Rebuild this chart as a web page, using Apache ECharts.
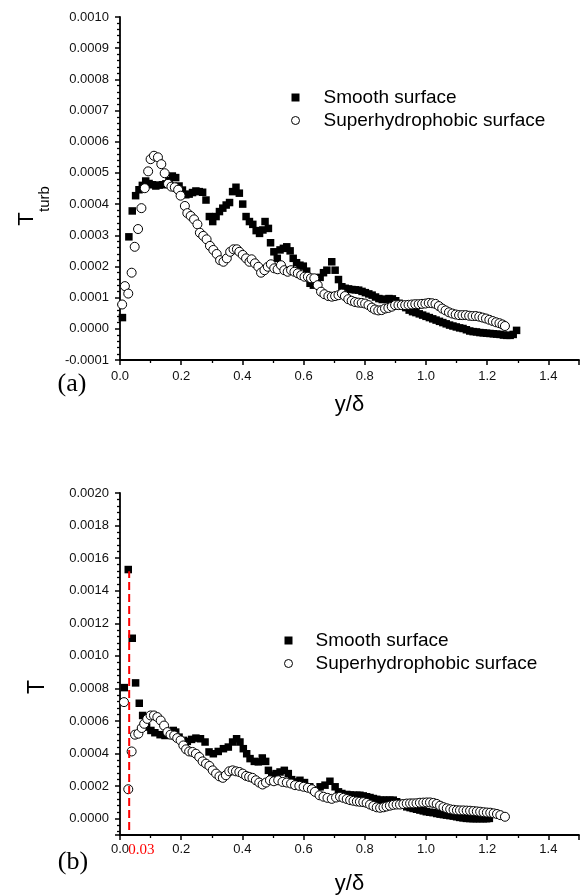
<!DOCTYPE html>
<html>
<head>
<meta charset="utf-8">
<script src="https://cdn.jsdelivr.net/npm/echarts@6/dist/echarts.min.js"></script>
<style>
  html, body { margin: 0; padding: 0; background: #fff; }
  #main { width: 581px; height: 896px; }
</style>
</head>
<body>
<div id="main"></div>
<script>
// values of T are read in units of 1e-4
var SCALE = 1e-4;

var xTicks = [0, 0.2, 0.4, 0.6, 0.8, 1.0, 1.2, 1.4];
var legendNames = ['Smooth surface', 'Superhydrophobic surface'];

// (a) smooth surface
var smoothAX = [0.008,0.029,0.040,0.051,0.062,0.073,0.084,0.095,0.106,0.117,0.128,0.139,0.150,0.160,0.171,0.182,0.193,0.204,0.215,0.226,
  0.237,0.248,0.259,0.270,0.281,0.292,0.303,0.314,0.325,0.336,0.347,0.358,0.368,0.379,0.390,0.401,0.412,0.423,0.434,0.445,
  0.456,0.467,0.474,0.485,0.492,0.503,0.514,0.523,0.534,0.545,0.556,0.566,0.577,0.588,0.599,0.610,0.621,0.632,0.643,0.654,
  0.665,0.676,0.692,0.703,0.714,0.725,0.736,0.747,0.758,0.769,0.780,0.791,0.802,0.813,0.824,0.835,0.846,0.857,0.868,0.879,
  0.890,0.901,0.912,0.923,0.934,0.945,0.956,0.967,0.978,0.989,1.000,1.011,1.022,1.033,1.044,1.055,1.066,1.077,1.088,1.099,
  1.110,1.121,1.132,1.143,1.154,1.165,1.176,1.187,1.198,1.209,1.220,1.231,1.242,1.253,1.264,1.275,1.285,1.296];
var smoothAY = [0.36,2.95,3.78,4.27,4.46,4.60,4.74,4.66,4.62,4.58,4.61,4.62,4.65,4.75,4.90,4.85,4.58,4.45,4.30,4.32,
  4.37,4.42,4.40,4.38,4.13,3.60,3.44,3.60,3.76,3.87,3.97,4.05,4.40,4.54,4.35,4.00,3.60,3.44,3.35,3.15,
  3.06,3.17,3.44,3.22,2.76,2.47,2.26,2.53,2.58,2.63,2.50,2.26,2.12,2.04,2.01,1.85,1.46,1.40,1.50,1.65,
  1.80,1.88,2.15,1.88,1.58,1.35,1.30,1.28,1.26,1.25,1.24,1.20,1.16,1.12,1.08,1.02,0.97,0.94,0.95,0.97,
  0.96,0.90,0.82,0.75,0.68,0.60,0.55,0.52,0.48,0.44,0.40,0.36,0.32,0.28,0.24,0.20,0.16,0.12,0.09,0.06,
  0.03,0.01,-0.03,-0.07,-0.09,-0.10,-0.12,-0.13,-0.14,-0.15,-0.16,-0.17,-0.18,-0.20,-0.21,-0.21,-0.18,-0.05];

// (a) superhydrophobic surface
var superAX = [0.007,0.016,0.027,0.038,0.048,0.059,0.070,0.081,0.092,0.100,0.111,0.124,0.135,0.146,0.157,0.168,0.179,0.190,0.198,0.212,
  0.220,0.231,0.242,0.253,0.261,0.272,0.283,0.294,0.305,0.316,0.327,0.338,0.349,0.360,0.371,0.382,0.390,0.401,0.412,0.423,
  0.430,0.441,0.452,0.461,0.472,0.483,0.493,0.504,0.515,0.526,0.537,0.548,0.559,0.570,0.581,0.592,0.603,0.614,0.624,0.635,
  0.646,0.657,0.668,0.681,0.692,0.703,0.714,0.725,0.735,0.746,0.757,0.768,0.779,0.790,0.801,0.812,0.823,0.833,0.844,0.855,
  0.866,0.877,0.888,0.899,0.910,0.921,0.932,0.943,0.954,0.965,0.976,0.987,0.998,1.009,1.020,1.031,1.042,1.053,1.064,1.075,
  1.086,1.097,1.108,1.119,1.130,1.141,1.152,1.163,1.174,1.185,1.196,1.207,1.218,1.229,1.240,1.250,1.258];
var superAY = [0.78,1.37,1.13,1.80,2.63,3.20,3.87,4.51,5.05,5.44,5.55,5.50,5.28,4.99,4.65,4.56,4.54,4.46,4.27,3.94,
  3.71,3.62,3.51,3.35,3.08,2.98,2.87,2.66,2.53,2.40,2.20,2.15,2.26,2.47,2.55,2.55,2.47,2.37,2.26,2.15,
  2.23,2.10,1.99,1.80,1.88,1.99,2.07,1.94,1.91,2.04,1.88,1.83,1.88,1.83,1.78,1.72,1.67,1.67,1.62,1.62,
  1.40,1.19,1.11,1.05,1.03,1.05,1.08,1.13,1.05,0.95,0.90,0.86,0.84,0.83,0.81,0.76,0.68,0.62,0.59,0.60,
  0.65,0.67,0.71,0.76,0.76,0.76,0.76,0.77,0.78,0.79,0.79,0.80,0.81,0.83,0.82,0.80,0.73,0.65,0.59,0.53,
  0.49,0.46,0.44,0.44,0.44,0.42,0.41,0.41,0.39,0.36,0.33,0.29,0.25,0.21,0.18,0.14,0.09];

// (b) smooth surface
var smoothBX = [0.014,0.027,0.040,0.051,0.063,0.074,0.087,0.101,0.114,0.131,0.147,0.163,0.174,0.182,0.193,0.207,0.220,0.234,0.248,0.263,
  0.278,0.291,0.305,0.321,0.338,0.354,0.368,0.381,0.392,0.403,0.414,0.425,0.439,0.452,0.465,0.476,0.485,0.496,0.510,0.523,
  0.537,0.550,0.561,0.575,0.588,0.603,0.620,0.637,0.654,0.670,0.686,0.703,0.714,0.725,0.741,0.752,0.763,0.774,0.784,0.795,
  0.806,0.817,0.828,0.839,0.850,0.861,0.871,0.882,0.893,0.904,0.915,0.926,0.937,0.948,0.958,0.969,0.980,0.991,1.001,1.012,
  1.023,1.035,1.046,1.057,1.067,1.078,1.089,1.100,1.110,1.121,1.132,1.143,1.154,1.165,1.176,1.187,1.198,1.207];
var smoothBY = [8.05,15.3,11.08,8.34,7.09,6.34,5.63,5.42,5.28,5.16,5.11,5.28,5.42,5.32,5.01,4.81,4.75,4.87,4.95,4.91,
  4.71,4.10,3.99,4.13,4.30,4.40,4.71,4.91,4.71,4.30,3.99,3.69,3.52,3.49,3.73,3.52,2.97,2.67,2.77,2.87,
  2.97,2.77,2.40,2.26,2.36,2.22,1.96,1.75,1.96,2.06,2.30,1.96,1.65,1.55,1.49,1.46,1.44,1.44,1.44,1.40,
  1.35,1.30,1.24,1.19,1.14,1.14,1.14,1.14,1.14,1.04,0.94,0.84,0.73,0.68,0.63,0.58,0.53,0.48,0.43,0.40,
  0.37,0.32,0.28,0.25,0.22,0.19,0.16,0.12,0.08,0.05,0.02,0.01,0.00,0.00,0.00,0.00,0.00,0.02];

// (b) superhydrophobic surface
var superBX = [0.013,0.027,0.038,0.049,0.060,0.071,0.079,0.089,0.100,0.111,0.122,0.133,0.144,0.155,0.165,0.177,0.187,0.198,0.207,0.216,
  0.226,0.237,0.248,0.259,0.270,0.281,0.292,0.303,0.314,0.325,0.336,0.346,0.357,0.368,0.379,0.390,0.401,0.412,0.422,0.433,
  0.444,0.455,0.466,0.477,0.490,0.503,0.517,0.531,0.545,0.559,0.572,0.586,0.600,0.614,0.627,0.637,0.652,0.665,0.678,0.692,
  0.706,0.719,0.730,0.741,0.752,0.763,0.774,0.784,0.795,0.806,0.817,0.828,0.839,0.850,0.861,0.871,0.882,0.893,0.904,0.915,
  0.926,0.937,0.948,0.958,0.969,0.980,0.991,1.002,1.013,1.024,1.035,1.046,1.057,1.068,1.079,1.090,1.101,1.111,1.122,1.133,
  1.144,1.155,1.166,1.177,1.188,1.199,1.210,1.221,1.232,1.243,1.258];
var superBY = [7.16,1.81,4.13,5.16,5.22,5.57,5.83,6.13,6.34,6.34,6.24,6.03,5.72,5.32,5.16,5.11,4.95,4.81,4.50,4.26,
  4.13,4.10,3.99,3.79,3.52,3.38,3.24,2.97,2.77,2.60,2.51,2.67,2.91,2.97,2.91,2.87,2.77,2.63,2.57,2.51,
  2.36,2.22,2.10,2.22,2.36,2.30,2.36,2.26,2.22,2.16,2.06,2.02,1.96,1.90,1.81,1.65,1.44,1.35,1.28,1.22,
  1.30,1.35,1.28,1.21,1.14,1.10,1.06,1.04,1.02,0.97,0.87,0.78,0.70,0.67,0.70,0.75,0.80,0.85,0.87,0.87,
  0.90,0.93,0.94,0.94,0.95,0.98,0.99,1.00,1.00,0.97,0.91,0.80,0.71,0.64,0.58,0.55,0.52,0.51,0.51,0.50,
  0.49,0.47,0.45,0.43,0.40,0.38,0.37,0.33,0.29,0.22,0.12];

// red marker line in (b)
var markX = 0.03;
var markY = [-0.7, 15.2];

function pts(xs, ys) {
  return xs.map(function (x, i) { return [x, ys[i] * SCALE]; });
}

var FONT = '"Liberation Sans", Arial, sans-serif';
var SERIF = '"Liberation Serif", "Times New Roman", serif';

function xAxisOpt(gridIndex, labelMargin, nameGap) {
  return {
    type: 'value', gridIndex: gridIndex, min: 0, max: 1.5, interval: 0.2,
    name: 'y/δ', nameLocation: 'middle', nameGap: nameGap,
    nameTextStyle: { fontFamily: FONT, fontSize: 22, color: '#000' },
    axisLine: { show: true, onZero: false, lineStyle: { color: '#000', width: 1.8 } },
    axisTick: { show: true, length: 5, lineStyle: { color: '#000', width: 1.5 } },
    minorTick: { show: true, splitNumber: 2, length: 3, lineStyle: { color: '#000', width: 1.3 } },
    axisLabel: {
      showMaxLabel: false, margin: labelMargin, fontFamily: FONT, fontSize: 13, color: '#111',
      formatter: function (v) { return xTicks.indexOf(Math.round(v * 10) / 10) >= 0 ? v.toFixed(1) : ''; }
    },
    splitLine: { show: false }
  };
}

function yAxisBase(gridIndex) {
  return {
    type: 'value', gridIndex: gridIndex,
    axisLine: { show: true, onZero: false, lineStyle: { color: '#000', width: 1.8 } },
    axisTick: { show: true, length: 5, lineStyle: { color: '#000', width: 1.5 } },
    minorTick: { show: true, splitNumber: 5, length: 3, lineStyle: { color: '#000', width: 1.3 } },
    splitLine: { show: false }
  };
}

var yA = yAxisBase(0);
yA.min = -0.0001; yA.max = 0.001; yA.interval = 0.0001;
yA.axisLabel = { margin: 11, fontFamily: FONT, fontSize: 13, color: '#111',
  formatter: function (v) { return v.toFixed(4); } };

var yB = yAxisBase(1);
yB.min = -0.0001; yB.max = 0.002; yB.splitNumber = 10;
yB.axisLabel = { margin: 11, fontFamily: FONT, fontSize: 13, color: '#111',
  formatter: function (v) { return v < -1e-9 ? '' : v.toFixed(4); } };

var squareStyle = { color: '#000', opacity: 1 };
var circleStyle = { color: '#fff', borderColor: '#000', borderWidth: 1, opacity: 1 };

function legendOpt(left, top, pad) {
  return {
    orient: 'vertical', left: left, top: top, padding: 0,
    itemWidth: 8, itemHeight: 8, itemGap: 4,
    selectedMode: false,
    textStyle: { fontFamily: FONT, fontSize: 19, color: '#000', lineHeight: 19, padding: [0, 0, 0, pad] },
    data: [
      { name: legendNames[0], icon: 'rect', itemStyle: squareStyle },
      { name: legendNames[1], icon: 'circle', itemStyle: circleStyle }
    ]
  };
}

var myChart = echarts.init(document.getElementById('main'), null, { renderer: 'canvas' });
var option = {
  animation: false,
  backgroundColor: '#fff',
  grid: [
    { left: 120, top: 17, width: 459, height: 343 },
    { left: 120, top: 493, width: 459, height: 344 }
  ],
  legend: [legendOpt(291, 88, 19), legendOpt(284, 631, 18)],
  xAxis: [xAxisOpt(0, 10, 34), xAxisOpt(1, 8, 38)],
  yAxis: [yA, yB],
  series: [
    { name: legendNames[0], type: 'scatter', xAxisIndex: 0, yAxisIndex: 0, symbol: 'rect', symbolSize: 7.5,
      itemStyle: squareStyle, data: pts(smoothAX, smoothAY) },
    { name: legendNames[1], type: 'scatter', xAxisIndex: 0, yAxisIndex: 0, symbol: 'circle', symbolSize: 9,
      itemStyle: circleStyle, data: pts(superAX, superAY) },
    { name: 'marker', type: 'line', xAxisIndex: 1, yAxisIndex: 1, showSymbol: false, silent: true,
      lineStyle: { color: '#ff0000', width: 2, type: [8, 4] },
      data: [[markX, markY[0] * SCALE], [markX, markY[1] * SCALE]] },
    { name: legendNames[0], type: 'scatter', xAxisIndex: 1, yAxisIndex: 1, symbol: 'rect', symbolSize: 7.5,
      itemStyle: squareStyle, data: pts(smoothBX, smoothBY) },
    { name: legendNames[1], type: 'scatter', xAxisIndex: 1, yAxisIndex: 1, symbol: 'circle', symbolSize: 9,
      itemStyle: circleStyle, data: pts(superBX, superBY) }
  ]
};
myChart.setOption(option);

// axis titles, panel letters and the red 0.03 label
var markPx = myChart.convertToPixel({ xAxisIndex: 1 }, markX);
var axisBPx = myChart.convertToPixel({ yAxisIndex: 1 }, -0.0001);
myChart.setOption({
  graphic: [
    { type: 'text', x: 27, y: 219, rotation: Math.PI / 2,
      style: { text: 'T', fontFamily: FONT, fontSize: 22, fill: '#000', align: 'center', verticalAlign: 'middle' } },
    { type: 'text', x: 45, y: 199, rotation: Math.PI / 2,
      style: { text: 'turb', fontFamily: FONT, fontSize: 15, fill: '#000', align: 'center', verticalAlign: 'middle' } },
    { type: 'text', x: 38, y: 687, rotation: Math.PI / 2,
      style: { text: 'T', fontFamily: FONT, fontSize: 23, fill: '#000', align: 'center', verticalAlign: 'middle' } },
    { type: 'text', x: 72, y: 384,
      style: { text: '(a)', fontFamily: SERIF, fontSize: 26, fill: '#000', align: 'center', verticalAlign: 'middle' } },
    { type: 'text', x: 73, y: 862,
      style: { text: '(b)', fontFamily: SERIF, fontSize: 26, fill: '#000', align: 'center', verticalAlign: 'middle' } },
    { type: 'text', x: markPx - 1, y: axisBPx + 15,
      style: { text: '0.03', fontFamily: SERIF, fontSize: 15, fill: '#ff0000', align: 'left', verticalAlign: 'middle' } }
  ]
});
window.onresize = myChart.resize;
</script>
</body>
</html>
